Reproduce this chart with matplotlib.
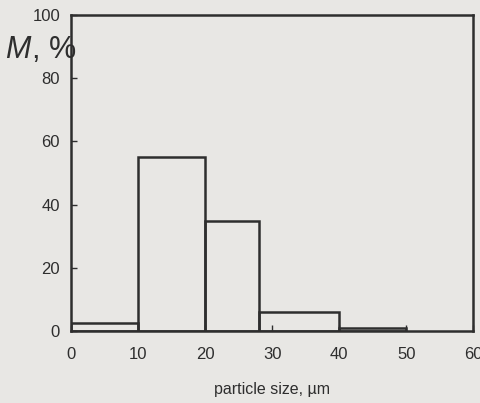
import numpy as np
import matplotlib.pyplot as plt

plt.rcParams['font.family'] = ['Liberation Sans', 'DejaVu Sans']

# histogram of particle size distribution (mass fraction)
bin_edges = [0, 10, 20, 28, 40, 50]
mass_pct = [2.5, 55, 35, 6, 1]
x_ticks = [0, 10, 20, 30, 40, 50, 60]
y_ticks = [0, 20, 40, 60, 80, 100]

bg = '#e8e7e4'
ink = '#2e2e2e'

fig = plt.figure(figsize=(4.81, 4.03), dpi=100, facecolor=bg)
ax = fig.add_axes([0.148, 0.178, 0.836, 0.785], facecolor=bg)

widths = np.diff(bin_edges)
ax.bar(bin_edges[:-1], mass_pct, width=widths, align='edge',
       fill=False, edgecolor=ink, linewidth=1.8)

ax.set_xlim(0, 60)
ax.set_ylim(0, 100)
ax.set_xticks(x_ticks)
ax.set_yticks(y_ticks)
ax.tick_params(direction='in', length=4, width=1, colors=ink,
               labelsize=12, pad=8)
ax.tick_params(axis='x', pad=11)
for s in ax.spines.values():
    s.set_linewidth(1.8)
    s.set_color(ink)

ax.set_xlabel('particle size, µm', fontsize=11.5, color=ink, labelpad=15)
fig.text(0.010, 0.855, 'M', fontsize=22, style='italic', color=ink)
fig.text(0.066, 0.855, ', %', fontsize=22, color=ink)

fig.savefig('out.png', dpi=100, facecolor=bg)
